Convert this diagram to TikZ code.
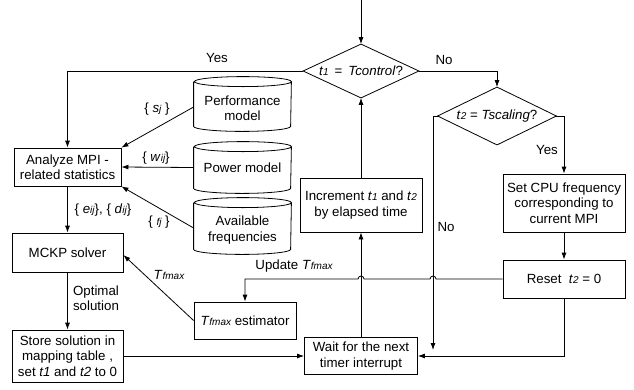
\documentclass[tikz,border=0pt]{standalone}
\usepackage{fontspec}
\setmainfont{Liberation Sans}
\usetikzlibrary{arrows.meta,calc}
\newcommand\smi[1]{{\fontsize{10bp}{10bp}\selectfont\itshape #1}}
\newcommand\cylshape[2]{% #1 node name, #2 half width
  \draw ([yshift=-5bp]#1.north west) -- ([yshift=5bp]#1.south west)
    arc[start angle=180,end angle=360,x radius=#2,y radius=5bp]
    -- ([yshift=-5bp]#1.north east)
    arc[start angle=0,end angle=180,x radius=#2,y radius=5bp]
    arc[start angle=180,end angle=360,x radius=#2,y radius=5bp];}
\begin{document}
\begin{tikzpicture}[x=1bp,y=-1bp,line width=0.8bp,
  >={Latex[length=7bp,width=5bp]},
  box/.style={draw,align=center,inner sep=0pt,font=\fontsize{13.3bp}{15.5bp}\selectfont},
  txt/.style={inner sep=0pt,align=center,font=\fontsize{13.3bp}{15.5bp}\selectfont},
  cylbox/.style={inner sep=0pt,minimum width=97bp}]
\useasboundingbox (0,0) rectangle (634,389);

% diamonds
\node[txt,minimum width=115bp,minimum height=53bp] (d1) at (361,71)
  {\textit{t}\smi{1}\ \,=\ \,\textit{Tcontrol}?};
\draw (d1.north) -- (d1.east) -- (d1.south) -- (d1.west) -- cycle;
\node[txt,minimum width=118bp,minimum height=57bp] (d2) at (497,116)
  {\textit{t}\smi{2}\ =\ \textit{Tscaling}?};
\draw (d2.north) -- (d2.east) -- (d2.south) -- (d2.west) -- cycle;

% boxes
\node[box,minimum width=107bp,minimum height=38bp] (an) at (67.5,167) {Analyze MPI -\\related statistics};
\node[box,minimum width=111bp,minimum height=39bp] (mckp) at (67.5,252.5) {MCKP solver};
\node[box,minimum width=111bp,minimum height=52bp] (store) at (67.5,356) {Store solution in\\mapping table ,\\set \textit{t1} and \textit{t2} to 0};
\node[box,minimum width=102bp,minimum height=37bp] (est) at (245,320.5) {\textit{T}\smi{fmax} estimator};
\node[box,minimum width=122bp,minimum height=54bp] (inc) at (361,205) {Increment \textit{t}\smi{1} and \textit{t}\smi{2}\\by elapsed time};
\node[box,minimum width=113bp,minimum height=37bp] (wait) at (361,356) {Wait for the next\\timer interrupt};
\node[box,minimum width=122bp,minimum height=58bp] (setcpu) at (564,203) {Set CPU frequency\\corresponding to\\current MPI};
\node[box,minimum width=122bp,minimum height=38bp] (reset) at (564,279) {Reset\ \ \textit{t}\smi{2} = 0};

% cylinders
\node[cylbox,minimum height=54bp] (perf) at (242.5,104) {};
\cylshape{perf}{48.5bp}
\node[txt] (perft) at (242.5,108) {Performance\\model};
\node[cylbox,minimum height=51bp] (power) at (242.5,167.5) {};
\cylshape{power}{48.5bp}
\node[txt] (powert) at (242.5,168) {Power model};
\node[cylbox,minimum height=56bp] (avail) at (242.5,226) {};
\cylshape{avail}{48.5bp}
\node[txt] (availt) at (242.5,230) {Available\\frequencies};

% connectors
\coordinate (start) at (361,0);
\draw[->] (start) -- (d1.north);
\draw[->] (d1.west) -| (an.north);
\node[txt] (lyes1) at (217,58) {Yes};
\draw[->] (d1.east) -| (d2.north);
\node[txt] (lno1) at (444,60) {No};
\coordinate (nojoin) at (433,350);
\draw[->] (d2.west) -| (nojoin);
\node[txt] (lno2) at (446,227) {No};
\draw[->] (d2.east) -| (setcpu.north);
\node[txt] (lyes2) at (547,150) {Yes};
\draw[->] (setcpu.south) -- (reset.north);
\draw[->] (reset.south) |- (wait.east);
\draw[->] (wait.north) -- (inc.south);
\draw[->] (inc.north) -- (d1.south);
\draw[->] (store.east) -- (wait.west);
\draw[->] (an.south) -- (mckp.north);
\node[txt] (leij) at (103,210) {\{ \textit{e}\smi{ij}\}, \{ \textit{d}\smi{ij}\}};
\draw[->] (mckp.south) -- (store.north);
\node[txt,align=left] (lopt) at (96,298) {Optimal\\solution};
\draw[->] (reset.west) -- (436,279)
  arc[start angle=0,end angle=180,radius=3bp] -- (364,279)
  arc[start angle=0,end angle=180,radius=3bp] -| (est.north);
\node[txt] (lupd) at (294,266) {Update \textit{T}\smi{fmax}};
\draw[->] (est.west) -- ([yshift=-2.5bp]mckp.east);
\node[txt] (ltf) at (169,275) {\textit{T}\smi{fmax}};
\draw[->] ([yshift=-3bp]perf.west) -- (an.north east);
\node[txt] (lsj) at (157,109) {\{ \textit{s}\smi{j} \}};
\draw[->] (power.west) -- (an.east);
\node[txt] (lwij) at (156,158) {\{ \textit{w}\smi{ij}\}};
\draw[->] ([yshift=-2bp]avail.west) -- (an.south east);
\node[txt] (lfj) at (159,222) {\{ \smi{fj} \}};
\end{tikzpicture}
\end{document}
